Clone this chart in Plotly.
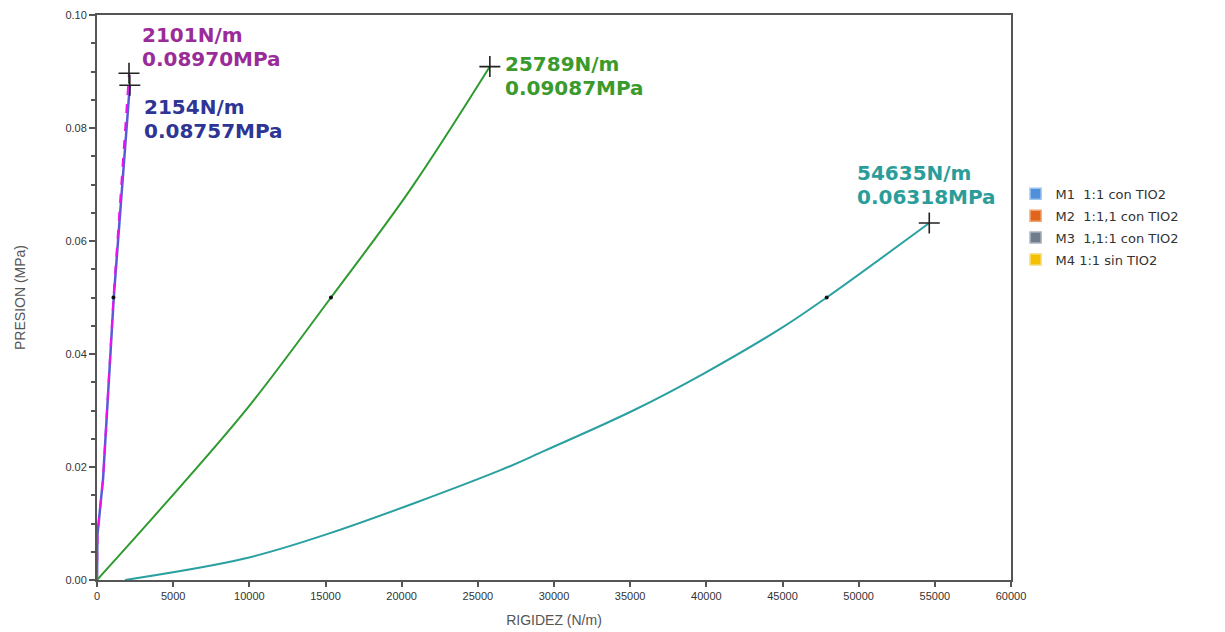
import plotly.graph_objects as go

# ---- data ----
blue_x = [0, 30, 400, 1100, 2154]
blue_y = [0, 0.008, 0.018, 0.050, 0.08757]

magenta_x = [0, 30, 400, 1080, 2101]
magenta_y = [0, 0.008, 0.018, 0.050, 0.08970]

green_x = [0, 4250, 9930, 15360, 20545, 25789]
green_y = [0, 0.0128, 0.0306, 0.0500, 0.0690, 0.09087]

teal_x = [1840, 9700, 15200, 26450, 29400, 35200, 39800, 45050, 47900, 54635]
teal_y = [0, 0.0038, 0.0082, 0.0194, 0.0229, 0.0300, 0.0365, 0.0448, 0.0500, 0.06318]

end_x = [2101, 2154, 25789, 54635]
end_y = [0.08970, 0.08757, 0.09087, 0.06318]

mid_x = [1080, 15360, 47900]
mid_y = [0.050, 0.050, 0.050]

legend_names = ["M1  1:1 con TIO2", "M2  1:1,1 con TIO2", "M3  1,1:1 con TIO2", "M4 1:1 sin TIO2"]
legend_colors = ["#4F8FDB", "#E0651B", "#6F7C8C", "#F5C000"]
legend_borders = ["#9CC2EE", "#F0A070", "#A9B2BE", "#F7DC70"]

labels_rig = ["2101N/m", "2154N/m", "25789N/m", "54635N/m"]
labels_pres = ["0.08970MPa", "0.08757MPa", "0.09087MPa", "0.06318MPa"]
label_colors = ["#9A2C9A", "#2E3595", "#3A9A2C", "#2A9D9A"]

fig = go.Figure()

fig.add_trace(go.Scatter(x=blue_x, y=blue_y, mode="lines",
                         line=dict(color="#5A5AD8", width=2.5), showlegend=False, hoverinfo="skip"))
fig.add_trace(go.Scatter(x=magenta_x, y=magenta_y, mode="lines",
                         line=dict(color="#EE10EE", width=2, dash="dash"), showlegend=False, hoverinfo="skip"))
fig.add_trace(go.Scatter(x=green_x, y=green_y, mode="lines", line_shape="spline",
                         line=dict(color="#2F9A2F", width=2), showlegend=False, hoverinfo="skip"))
fig.add_trace(go.Scatter(x=teal_x, y=teal_y, mode="lines", line_shape="spline",
                         line=dict(color="#2AA0A0", width=2), showlegend=False, hoverinfo="skip"))
fig.add_trace(go.Scatter(x=mid_x, y=mid_y, mode="markers",
                         marker=dict(color="#111", size=4), showlegend=False, hoverinfo="skip"))
fig.add_trace(go.Scatter(x=end_x, y=end_y, mode="markers",
                         marker=dict(symbol="cross-thin", size=15, line=dict(color="#222", width=1.6)),
                         showlegend=False, hoverinfo="skip"))

for i, (n, c, b) in enumerate(zip(legend_names, legend_colors, legend_borders)):
    fig.add_trace(go.Scatter(x=[None], y=[None], mode="markers", name=n, legendgroup=f"g{i}",
                             marker=dict(symbol="square", size=11, color=c, line=dict(color=b, width=1.5))))

# annotations (two lines each, offsets in pixels from the end point)
shifts = [  # (xshift, yshift line1, yshift line2)
    (12, 38, 14),
    (13, -22, -46),
    (14, 3, -21),
    (-73, 50, 26),
]
for i in range(4):
    xs, y1, y2 = shifts[i]
    for txt, ys in ((labels_rig[i], y1), (labels_pres[i], y2)):
        fig.add_annotation(x=end_x[i], y=end_y[i], text=f"<b>{txt}</b>", showarrow=False,
                           xanchor="left", yanchor="middle", xshift=xs, yshift=ys,
                           font=dict(family="DejaVu Sans", size=20, color=label_colors[i]),
                           borderpad=0)

axis_common = dict(showgrid=False, zeroline=False, showline=True, linecolor="#555", linewidth=2,
                   mirror=True, ticks="outside", tickcolor="#555", tickwidth=1.5,
                   tickfont=dict(family="Liberation Sans", size=11, color="#333"))

fig.update_xaxes(range=[0, 60000], tick0=0, dtick=5000, ticklen=5, tickformat="d",
                 title=dict(text="RIGIDEZ (N/m)", font=dict(family="Liberation Sans", size=14, color="#555"),
                            standoff=14),
                 **axis_common)
fig.update_yaxes(range=[0, 0.10], tick0=0, dtick=0.02, tickformat=".2f", ticklen=6,
                 minor=dict(dtick=0.005, ticks="outside", ticklen=4, tickcolor="#555"),
                 title=dict(text="PRESION (MPa)", font=dict(family="Liberation Sans", size=14, color="#555"),
                            standoff=36),
                 **axis_common)

fig.update_layout(
    width=1225, height=632,
    margin=dict(l=97, r=214, t=15, b=52, autoexpand=False),
    plot_bgcolor="white", paper_bgcolor="white",
    legend=dict(x=1.005, y=0.71, xanchor="left", yanchor="top",
                font=dict(family="DejaVu Sans", size=13, color="#333"),
                bgcolor="rgba(0,0,0,0)", tracegroupgap=2),
)

fig.write_html("out.html")
